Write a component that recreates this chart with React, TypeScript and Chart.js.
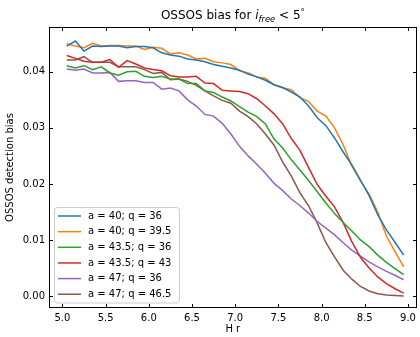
import React, { useEffect, useRef } from "react";
import { Chart, registerables } from "chart.js";

Chart.register(...registerables);

const FONT = "'DejaVu Sans', sans-serif";

const hValues = [
  5.05, 5.15, 5.25, 5.35, 5.45, 5.55, 5.65, 5.75, 5.85, 5.95,
  6.05, 6.15, 6.25, 6.35, 6.45, 6.55, 6.65, 6.75, 6.85, 6.95,
  7.05, 7.15, 7.25, 7.35, 7.45, 7.55, 7.65, 7.75, 7.85, 7.95,
  8.05, 8.15, 8.25, 8.35, 8.45, 8.55, 8.65, 8.75, 8.85, 8.95,
];

const a40q36 = [
  0.0446, 0.0455, 0.0437, 0.0446, 0.0445, 0.0446, 0.0446, 0.0443, 0.0445, 0.0445,
  0.0443, 0.0434, 0.043, 0.0428, 0.0423, 0.0421, 0.0418, 0.0413, 0.041, 0.0407,
  0.0403, 0.0396, 0.0391, 0.0385, 0.0377, 0.0372, 0.0364, 0.0355, 0.0339, 0.0318,
  0.0304, 0.0282, 0.0257, 0.0234, 0.0207, 0.0179, 0.0145, 0.0118, 0.0096, 0.0073,
];
const a40q395 = [
  0.045, 0.0446, 0.0443, 0.0451, 0.0446, 0.0447, 0.0447, 0.0446, 0.0446, 0.044,
  0.0444, 0.0442, 0.0432, 0.0434, 0.043, 0.0423, 0.0424, 0.0418, 0.0416, 0.0413,
  0.0402, 0.0398, 0.0391, 0.0388, 0.0377, 0.0371, 0.0368, 0.0354, 0.0347, 0.033,
  0.0321, 0.03, 0.027, 0.0232, 0.0205, 0.0182, 0.015, 0.0107, 0.0079, 0.0052,
];
const a435q36 = [
  0.0411, 0.0407, 0.0411, 0.0404, 0.0409, 0.0398, 0.0394, 0.04, 0.0401, 0.0392,
  0.039, 0.0392, 0.0387, 0.0387, 0.0379, 0.0379, 0.0366, 0.0363, 0.0355, 0.0348,
  0.0338, 0.0328, 0.032, 0.0307, 0.028, 0.0264, 0.0243, 0.0225, 0.0206, 0.0186,
  0.0166, 0.0147, 0.0131, 0.0116, 0.01, 0.0088, 0.0073, 0.006, 0.0049, 0.0038,
];
const a435q43 = [
  0.0429, 0.0424, 0.0419, 0.0417, 0.0417, 0.0422, 0.0408, 0.042, 0.0414, 0.0407,
  0.0404, 0.0402, 0.0393, 0.0391, 0.0391, 0.0392, 0.038, 0.0379, 0.0367, 0.0366,
  0.0365, 0.0361, 0.0352, 0.0339, 0.0325, 0.0307, 0.0281, 0.026, 0.0229, 0.0199,
  0.0178, 0.0159, 0.0131, 0.0097, 0.0069, 0.005, 0.0034, 0.0022, 0.0013, 0.0005,
];
const a47q36 = [
  0.0405, 0.0403, 0.0405, 0.0398, 0.0398, 0.0399, 0.0383, 0.0384, 0.0384, 0.0381,
  0.0381, 0.0369, 0.0371, 0.0366, 0.035, 0.0339, 0.0324, 0.0321, 0.0308, 0.0289,
  0.0267, 0.025, 0.0235, 0.0219, 0.0201, 0.0188, 0.0173, 0.0161, 0.0148, 0.0133,
  0.0121, 0.0109, 0.0095, 0.0082, 0.0071, 0.0061, 0.0052, 0.0044, 0.0037, 0.0029,
];
const a47q465 = [
  0.0421, 0.0421, 0.0427, 0.0417, 0.0417, 0.0417, 0.0409, 0.0409, 0.0409, 0.0404,
  0.0397, 0.0399, 0.0386, 0.0387, 0.0383, 0.0376, 0.0366, 0.0357, 0.0349, 0.0344,
  0.033, 0.032, 0.0307, 0.0289, 0.0269, 0.0239, 0.0214, 0.0184, 0.0161, 0.013,
  0.0095, 0.007, 0.0046, 0.003, 0.0017, 0.0009, 0.0004, 0.0002, 0.0001, 0.0,
];

const seriesLabels = [
  "a = 40; q = 36",
  "a = 40; q = 39.5",
  "a = 43.5; q = 36",
  "a = 43.5; q = 43",
  "a = 47; q = 36",
  "a = 47; q = 46.5",
];
const seriesValues = [a40q36, a40q395, a435q36, a435q43, a47q36, a47q465];
const seriesColors = ["#1f77b4", "#ff7f0e", "#2ca02c", "#d62728", "#9467bd", "#8c564b"];

const xTicks = [5.0, 5.5, 6.0, 6.5, 7.0, 7.5, 8.0, 8.5, 9.0];
const yTicks = [0.0, 0.01, 0.02, 0.03, 0.04];
const X_MIN = 4.845;
const X_MAX = 9.1;
const Y_MIN = -0.00214;
const Y_MAX = 0.048;

const titleMain = "OSSOS bias for ";
const titleVar = "i";
const titleSub = "free";
const titleRel = " < 5";
const titleSup = "°";
const xLabel = "H r";
const yLabel = "OSSOS detection bias";

const framePlugin = {
  id: "frameTicks",
  afterDraw(chart: any) {
    const { ctx, chartArea: a, scales } = chart;
    ctx.save();
    ctx.strokeStyle = "#000";
    ctx.lineWidth = 1;
    const L = Math.round(a.left) + 0.5;
    const R = Math.round(a.right) - 0.5;
    const T = Math.round(a.top) + 0.5;
    const B = Math.round(a.bottom) - 0.5;
    ctx.strokeRect(L, T, R - L, B - T);
    const tl = 3.5;
    ctx.beginPath();
    for (const t of xTicks) {
      const px = Math.round(scales.x.getPixelForValue(t)) + 0.5;
      ctx.moveTo(px, B);
      ctx.lineTo(px, B - tl);
      ctx.moveTo(px, T);
      ctx.lineTo(px, T + tl);
    }
    for (const t of yTicks) {
      const py = Math.round(scales.y.getPixelForValue(t)) + 0.5;
      ctx.moveTo(L, py);
      ctx.lineTo(L + tl, py);
      ctx.moveTo(R, py);
      ctx.lineTo(R - tl, py);
    }
    ctx.stroke();
    ctx.restore();
  },
};

const titlePlugin = {
  id: "richTitle",
  afterDraw(chart: any) {
    const { ctx, chartArea: a } = chart;
    const parts = [
      { t: titleMain, f: `12px ${FONT}`, dy: 0 },
      { t: titleVar, f: `italic 12px ${FONT}`, dy: 0 },
      { t: titleSub, f: `italic 8.4px ${FONT}`, dy: 2.5 },
      { t: titleRel, f: `12px ${FONT}`, dy: 0 },
      { t: titleSup, f: `8.4px ${FONT}`, dy: -4 },
    ];
    ctx.save();
    let total = 0;
    const widths: number[] = [];
    for (const p of parts) {
      ctx.font = p.f;
      const w = ctx.measureText(p.t).width;
      widths.push(w);
      total += w;
    }
    let x = (a.left + a.right) / 2 - total / 2;
    const base = 19;
    ctx.fillStyle = "#000";
    ctx.textBaseline = "alphabetic";
    ctx.textAlign = "left";
    parts.forEach((p, i) => {
      ctx.font = p.f;
      ctx.fillText(p.t, x, base + p.dy);
      x += widths[i];
    });
    ctx.restore();
  },
};

const legendPlugin = {
  id: "boxLegend",
  afterDatasetsDraw(chart: any) {
    const { ctx } = chart;
    const ds = chart.data.datasets;
    const left = 54.5;
    const top = 207.5;
    const w = 125;
    const h = 95.5;
    const r = 3;
    ctx.save();
    ctx.beginPath();
    ctx.moveTo(left + r, top);
    ctx.lineTo(left + w - r, top);
    ctx.quadraticCurveTo(left + w, top, left + w, top + r);
    ctx.lineTo(left + w, top + h - r);
    ctx.quadraticCurveTo(left + w, top + h, left + w - r, top + h);
    ctx.lineTo(left + r, top + h);
    ctx.quadraticCurveTo(left, top + h, left, top + h - r);
    ctx.lineTo(left, top + r);
    ctx.quadraticCurveTo(left, top, left + r, top);
    ctx.closePath();
    ctx.fillStyle = "rgba(255,255,255,0.8)";
    ctx.fill();
    ctx.strokeStyle = "#cccccc";
    ctx.lineWidth = 1;
    ctx.stroke();
    ctx.font = `10px ${FONT}`;
    ctx.textBaseline = "middle";
    ctx.textAlign = "left";
    ds.forEach((d: any, i: number) => {
      const y = 216 + i * 15.65;
      ctx.strokeStyle = d.borderColor;
      ctx.lineWidth = 1.5;
      ctx.beginPath();
      ctx.moveTo(58, y);
      ctx.lineTo(81, y);
      ctx.stroke();
      ctx.fillStyle = "#000";
      ctx.fillText(d.label, 88, y);
    });
    ctx.restore();
  },
};

export default function App() {
  const ref = useRef<HTMLCanvasElement>(null);
  useEffect(() => {
    if (!ref.current) return;
    const chart = new Chart(ref.current, {
      type: "line",
      data: {
        datasets: seriesValues.map((vals, i) => ({
          label: seriesLabels[i],
          data: vals.map((v, j) => ({ x: hValues[j], y: v })),
          borderColor: seriesColors[i],
          backgroundColor: seriesColors[i],
          borderWidth: 1.5,
          pointRadius: 0,
          tension: 0,
          fill: false,
        })),
      },
      options: {
        animation: false,
        responsive: false,
        devicePixelRatio: 1,
        layout: { padding: { top: 27, right: 3, left: 0, bottom: 0 } },
        plugins: {
          legend: { display: false },
          title: { display: false },
          tooltip: { enabled: false },
        },
        scales: {
          x: {
            type: "linear",
            min: X_MIN,
            max: X_MAX,
            grid: { display: false, drawTicks: false },
            border: { display: false },
            afterBuildTicks: (s: any) => {
              s.ticks = xTicks.map((v) => ({ value: v }));
            },
            afterFit: (s: any) => {
              s.height = 29;
            },
            ticks: {
              padding: 4,
              maxRotation: 0,
              autoSkip: false,
              color: "#000",
              font: { family: FONT, size: 10 },
              callback: (v: any) => Number(v).toFixed(1),
            },
            title: {
              display: true,
              text: xLabel,
              color: "#000",
              font: { family: FONT, size: 10, lineHeight: 1.2 },
              padding: { top: 0, bottom: 2 },
            },
          },
          y: {
            type: "linear",
            min: Y_MIN,
            max: Y_MAX,
            grid: { display: false, drawTicks: false },
            border: { display: false },
            afterBuildTicks: (s: any) => {
              s.ticks = yTicks.map((v) => ({ value: v }));
            },
            afterFit: (s: any) => {
              s.width = 49;
            },
            ticks: {
              padding: 4,
              autoSkip: false,
              color: "#000",
              font: { family: FONT, size: 10 },
              callback: (v: any) => Number(v).toFixed(2),
            },
            title: {
              display: true,
              text: yLabel,
              color: "#000",
              font: { family: FONT, size: 10, lineHeight: 1.2 },
              padding: { top: 4, bottom: 0 },
            },
          },
        },
      },
      plugins: [legendPlugin, framePlugin, titlePlugin],
    } as any);
    return () => chart.destroy();
  }, []);
  return (
    <div style={{ position: "fixed", left: 0, top: 0, width: 420, height: 337, background: "#fff" }}>
      <canvas ref={ref} width={420} height={337} style={{ display: "block", width: 420, height: 337 }} />
    </div>
  );
}
